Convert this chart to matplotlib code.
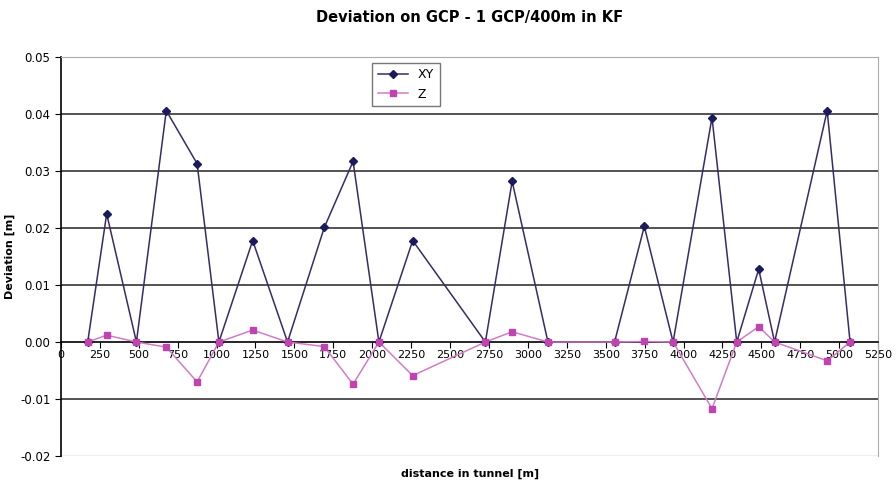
import matplotlib.pyplot as plt
from matplotlib.ticker import FormatStrFormatter, MultipleLocator

# GCP positions along the tunnel [m]
dist = [172, 294, 485, 677, 875, 1015, 1232, 1456, 1692, 1877, 2043, 2260,
        2727, 2899, 3129, 3557, 3748, 3933, 4183, 4342, 4483, 4585, 4923, 5070]
dev_xy = [0.0, 0.0225, 0.0, 0.0406, 0.0313, 0.0, 0.0178, 0.0, 0.0201, 0.0317,
          0.0, 0.0178, 0.0, 0.0282, 0.0, 0.0, 0.0203, 0.0, 0.0394, 0.0,
          0.0128, 0.0, 0.0406, 0.0]
dev_z = [0.0, 0.0012, 0.0, -0.0009, -0.0070, 0.0, 0.0021, 0.0, -0.0008, -0.0074,
         0.0, -0.0059, 0.0, 0.0018, 0.0, 0.0, 0.0001, 0.0, -0.0117, 0.0,
         0.0027, 0.0, -0.0033, 0.0]

fig = plt.figure(figsize=(8.96, 4.87), dpi=100)
ax = fig.add_axes([0.068, 0.0637, 0.912, 0.819])

for y in [-0.01, 0.01, 0.02, 0.03, 0.04]:
    ax.axhline(y, color="#444444", lw=1.3, zorder=1)
ax.axhline(-0.02, color="#aaaaaa", lw=1.0, zorder=1)

ax.plot(dist, dev_xy, color="#3a2a66", lw=1.1, marker="D", ms=4,
        mfc="#1c1a5e", mec="#1c1a5e", label="XY", zorder=2)
ax.plot(dist, dev_z, color="#d27cc6", lw=1.1, marker="s", ms=4.5,
        mfc="#c044b0", mec="#c044b0", label="Z", zorder=3)

ax.set_xlim(0, 5250)
ax.set_ylim(-0.02, 0.05)
ax.xaxis.set_major_locator(MultipleLocator(250))
ax.yaxis.set_major_locator(MultipleLocator(0.01))
ax.yaxis.set_major_formatter(FormatStrFormatter("%.2f"))

ax.spines["bottom"].set_position(("data", 0))
ax.spines["bottom"].set_linewidth(1.2)
ax.spines["left"].set_linewidth(1.2)
for s in ["top", "right"]:
    ax.spines[s].set_color("#aaaaaa")
ax.tick_params(axis="x", direction="out", length=4, labelsize=8, pad=2)
ax.tick_params(axis="y", direction="out", length=4, labelsize=8.5)

ax.set_title("Deviation on GCP - 1 GCP/400m in KF", fontsize=10.5,
             fontweight="bold", pad=25)
ax.set_ylabel("Deviation [m]", fontsize=8, fontweight="bold")
fig.text(0.525, 0.022, "distance in tunnel [m]", ha="center", fontsize=8,
         fontweight="bold")

leg = ax.legend(loc="upper left", bbox_to_anchor=(0.378, 0.992), fontsize=9,
                frameon=True, fancybox=False, edgecolor="#555555",
                borderpad=0.45, handlelength=2.4, borderaxespad=0.2)
leg.get_frame().set_linewidth(1.0)

fig.savefig("out.png", dpi=100)
